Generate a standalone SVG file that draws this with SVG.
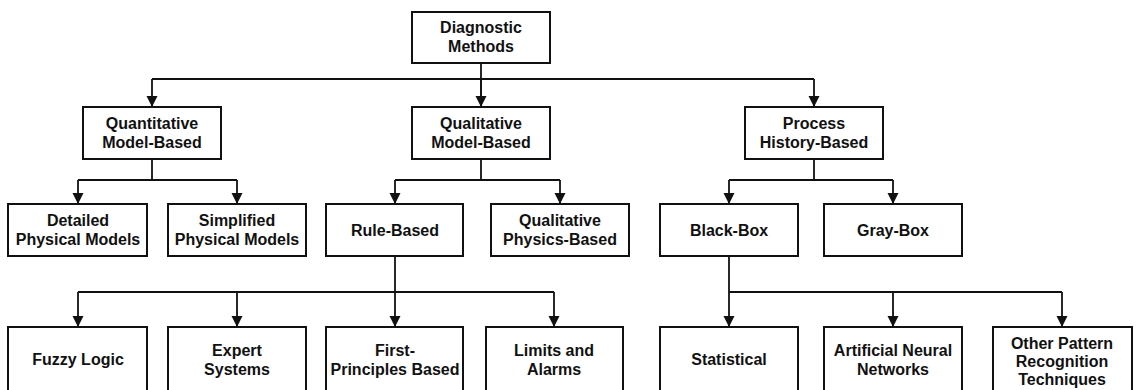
<svg xmlns="http://www.w3.org/2000/svg" width="1136" height="390" viewBox="0 0 1136 390">
  <defs>
    <marker id="arr" markerUnits="userSpaceOnUse" markerWidth="12" markerHeight="12" viewBox="0 0 12 12" refX="11" refY="6" orient="auto">
      <path d="M0,0.5 L11,6 L0,11.5 Z" fill="#111"/>
    </marker>
    <style>
      .box { fill: #fff; stroke: #111; stroke-width: 2; }
      .lbl { font-family: "Liberation Sans", Arial, sans-serif; font-weight: bold; font-size: 16px; fill: #111; text-anchor: middle; }
      .ln { fill: none; stroke: #111; stroke-width: 1.8; }
    </style>
  </defs>
  <rect width="1136" height="390" fill="#fff"/>

  <g id="connectors">
    <path class="ln" d="M481,63 V106"/>
    <path class="ln" d="M152,79 H814"/>
    <line class="ln" x1="152" y1="79" x2="152" y2="107" marker-end="url(#arr)"/>
    <line class="ln" x1="481" y1="79" x2="481" y2="107" marker-end="url(#arr)"/>
    <line class="ln" x1="814" y1="79" x2="814" y2="107" marker-end="url(#arr)"/>

    <path class="ln" d="M152,159 V180 M78,180 H237"/>
    <line class="ln" x1="78" y1="180" x2="78" y2="204" marker-end="url(#arr)"/>
    <line class="ln" x1="237" y1="180" x2="237" y2="204" marker-end="url(#arr)"/>

    <path class="ln" d="M481,159 V180 M395,180 H560"/>
    <line class="ln" x1="395" y1="180" x2="395" y2="204" marker-end="url(#arr)"/>
    <line class="ln" x1="560" y1="180" x2="560" y2="204" marker-end="url(#arr)"/>

    <path class="ln" d="M814,159 V180 M729,180 H893"/>
    <line class="ln" x1="729" y1="180" x2="729" y2="204" marker-end="url(#arr)"/>
    <line class="ln" x1="893" y1="180" x2="893" y2="204" marker-end="url(#arr)"/>

    <path class="ln" d="M78,292 H554"/>
    <line class="ln" x1="395" y1="256" x2="395" y2="327" marker-end="url(#arr)"/>
    <line class="ln" x1="78" y1="292" x2="78" y2="327" marker-end="url(#arr)"/>
    <line class="ln" x1="237" y1="292" x2="237" y2="327" marker-end="url(#arr)"/>
    <line class="ln" x1="554" y1="292" x2="554" y2="327" marker-end="url(#arr)"/>

    <path class="ln" d="M729,292 H1062"/>
    <line class="ln" x1="729" y1="256" x2="729" y2="327" marker-end="url(#arr)"/>
    <line class="ln" x1="893" y1="292" x2="893" y2="327" marker-end="url(#arr)"/>
    <line class="ln" x1="1062" y1="292" x2="1062" y2="327" marker-end="url(#arr)"/>
  </g>

  <g id="n-diagnostic">
    <rect class="box" x="412" y="12" width="138" height="51"/>
    <text class="lbl" x="481" y="33">Diagnostic</text>
    <text class="lbl" x="481" y="52">Methods</text>
  </g>

  <g id="n-quantitative">
    <rect class="box" x="83" y="107" width="138" height="52"/>
    <text class="lbl" x="152" y="129">Quantitative</text>
    <text class="lbl" x="152" y="148">Model-Based</text>
  </g>
  <g id="n-qualitative">
    <rect class="box" x="412" y="107" width="138" height="52"/>
    <text class="lbl" x="481" y="129">Qualitative</text>
    <text class="lbl" x="481" y="148">Model-Based</text>
  </g>
  <g id="n-process">
    <rect class="box" x="745" y="107" width="138" height="52"/>
    <text class="lbl" x="814" y="129">Process</text>
    <text class="lbl" x="814" y="148">History-Based</text>
  </g>

  <g id="n-detailed">
    <rect class="box" x="8" y="204" width="139" height="52"/>
    <text class="lbl" x="78" y="226">Detailed</text>
    <text class="lbl" x="78" y="245">Physical Models</text>
  </g>
  <g id="n-simplified">
    <rect class="box" x="168" y="204" width="138" height="52"/>
    <text class="lbl" x="237" y="226">Simplified</text>
    <text class="lbl" x="237" y="245">Physical Models</text>
  </g>
  <g id="n-rule">
    <rect class="box" x="326" y="204" width="137" height="52"/>
    <text class="lbl" x="395" y="236">Rule-Based</text>
  </g>
  <g id="n-qualphys">
    <rect class="box" x="491" y="204" width="138" height="52"/>
    <text class="lbl" x="560" y="226">Qualitative</text>
    <text class="lbl" x="560" y="245">Physics-Based</text>
  </g>
  <g id="n-blackbox">
    <rect class="box" x="660" y="204" width="138" height="52"/>
    <text class="lbl" x="729" y="236">Black-Box</text>
  </g>
  <g id="n-graybox">
    <rect class="box" x="824" y="204" width="138" height="52"/>
    <text class="lbl" x="893" y="236">Gray-Box</text>
  </g>

  <g id="n-fuzzy">
    <rect class="box" x="8" y="327" width="139" height="66"/>
    <text class="lbl" x="78" y="365">Fuzzy Logic</text>
  </g>
  <g id="n-expert">
    <rect class="box" x="168" y="327" width="138" height="66"/>
    <text class="lbl" x="237" y="356">Expert</text>
    <text class="lbl" x="237" y="375">Systems</text>
  </g>
  <g id="n-first">
    <rect class="box" x="326" y="327" width="137" height="66"/>
    <text class="lbl" x="395" y="356">First-</text>
    <text class="lbl" x="395" y="375">Principles Based</text>
  </g>
  <g id="n-limits">
    <rect class="box" x="486" y="327" width="137" height="66"/>
    <text class="lbl" x="554" y="356">Limits and</text>
    <text class="lbl" x="554" y="375">Alarms</text>
  </g>
  <g id="n-statistical">
    <rect class="box" x="660" y="327" width="138" height="66"/>
    <text class="lbl" x="729" y="365">Statistical</text>
  </g>
  <g id="n-ann">
    <rect class="box" x="824" y="327" width="138" height="66"/>
    <text class="lbl" x="893" y="356">Artificial Neural</text>
    <text class="lbl" x="893" y="375">Networks</text>
  </g>
  <g id="n-other">
    <rect class="box" x="993" y="327" width="139" height="66"/>
    <text class="lbl" x="1062" y="349">Other Pattern</text>
    <text class="lbl" x="1062" y="367">Recognition</text>
    <text class="lbl" x="1062" y="385">Techniques</text>
  </g>
</svg>
